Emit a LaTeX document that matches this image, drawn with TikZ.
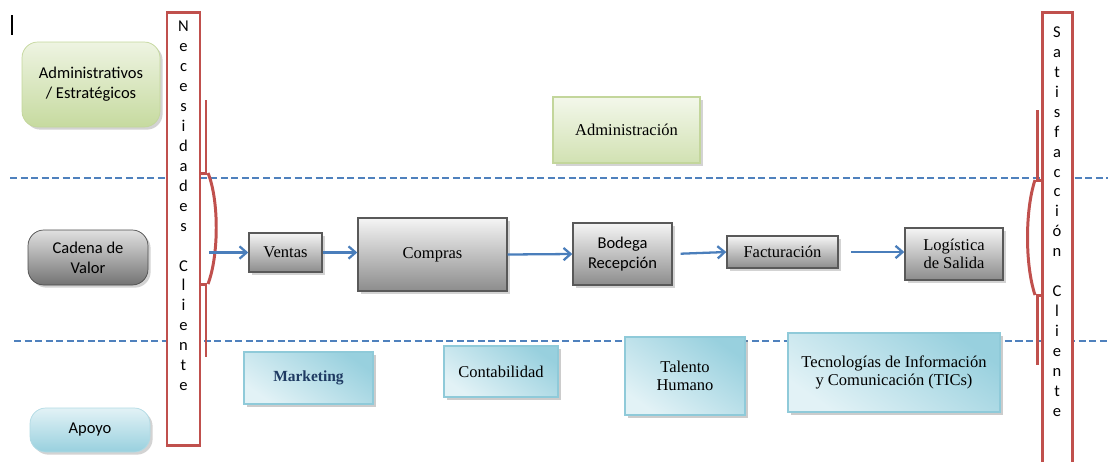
\documentclass[tikz,border=0pt]{standalone}
\usepackage{fontspec}
\setmainfont{Liberation Serif}
\newfontfamily\calib{Carlito}
\usetikzlibrary{arrows.meta,shadows}
\definecolor{necred}{HTML}{C0504D}
\definecolor{lineblue}{HTML}{4F81BD}
\definecolor{flowblue}{HTML}{4A7EBB}
\definecolor{grnlight}{HTML}{EEF4E2}
\definecolor{grndark}{HTML}{C6DA9F}
\definecolor{grnline}{HTML}{C3D69B}
\definecolor{suplight}{HTML}{E2F2F6}
\definecolor{supdark}{HTML}{98D0DE}
\definecolor{supline}{HTML}{8FCAD9}
\definecolor{mktblue}{HTML}{1F3B63}
\begin{document}
\begin{tikzpicture}[x=0.02cm, y=-0.02cm,
  boxsize/.style 2 args={minimum width=#1*0.02cm, minimum height=#2*0.02cm},
  sansfont/.style={font=\calib\fontsize{9.4}{11.3}\selectfont},
  seriffont/.style={font=\fontsize{9.4}{10.5}\selectfont},
  level/.style={draw, rounded corners=9pt, inner sep=0pt, align=center, sansfont,
    drop shadow={shadow xshift=1.5pt, shadow yshift=-1.5pt, opacity=.35}},
  process/.style={draw=black!65, line width=0.8pt, inner sep=0pt, align=center,
    top color=black!4, bottom color=black!45, seriffont,
    drop shadow={shadow xshift=1.5pt, shadow yshift=-1.5pt, opacity=.35}},
  support/.style={draw=supline, line width=0.8pt, inner sep=0pt, align=center,
    top color=supdark, bottom color=suplight, shading angle=-35, seriffont,
    drop shadow={shadow xshift=1.5pt, shadow yshift=-1.5pt, opacity=.4}},
  redframe/.style={draw=necred, line width=1.7pt, fill=white, inner sep=0pt},
  vletters/.style={inner sep=0pt, align=center, font=\calib\fontsize{9.4}{11.34}\selectfont},
  brace/.style={draw=necred, line width=1.7pt},
  sepline/.style={draw=lineblue, line width=1.2pt, dash pattern=on 4pt off 2pt},
  flow/.style={draw=flowblue, line width=1.3pt, -{Straight Barb[length=4pt,width=7pt]}}]
\useasboundingbox (0,0) rectangle (1108,461);

% cursor mark
\draw[line width=1.2pt] (12,15) -- (12,35);

% level separators
\draw[sepline] (10,178) -- (1108,178);
\draw[sepline] (14,341) -- (1108,341);

% level labels
\node[level, boxsize={138}{85}, draw=grnline, top color=grnlight, bottom color=grndark]
  (estrat) at (91,84.5) {Administrativos\\/ Estratégicos};
\node[level, boxsize={120}{55}, draw=black!70, top color=black!12, bottom color=black!55]
  (cadena) at (88,257.5) {Cadena de\\Valor};
\node[level, boxsize={120}{44}, draw=supline!70, top color=suplight, bottom color=supdark]
  (apoyo) at (90,430) {Apoyo};

% customer needs / satisfaction
\node[redframe, boxsize={33}{433}] (necbox) at (183.5,228.5) {};
\node[vletters, anchor=north] (nectxt) at (183.5,21)
  {N\\e\\c\\e\\s\\i\\d\\a\\d\\e\\s\\ \\C\\l\\i\\e\\n\\t\\e};
\node[redframe, boxsize={30}{456}] (satbox) at (1057,240) {};
\node[vletters, anchor=north] (sattxt) at (1057,26.5)
  {S\\a\\t\\i\\s\\f\\a\\c\\c\\i\\ó\\n\\ \\C\\l\\i\\e\\n\\t\\e};

\draw[brace] (206,100) -- (206,173) -- (200,173);
\draw[brace] (208,173) .. controls (219,200) and (219,255) .. (208,284);
\draw[brace] (200,284) -- (206,284) -- (206,357);
\draw[brace] (1037,110) -- (1037,180) -- (1042,180);
\draw[brace] (1035,180) .. controls (1025,210) and (1025,265) .. (1035,295);
\draw[brace] (1042,295) -- (1037,295) -- (1037,365);

% strategic level
\node[process, boxsize={147}{66}, draw=grnline, top color=grnlight!70!white, bottom color=grndark!80!white]
  (admin) at (626.5,130) {Administración};

% value chain
\node[process, boxsize={73}{39}] (ventas) at (285.5,252.5) {Ventas};
\node[process, boxsize={149}{73}] (compras) at (432.5,254.5) {Compras};
\node[process, boxsize={99}{62}, sansfont] (bodega) at (622.5,254) {Bodega\\Recepción};
\node[process, boxsize={111}{32}] (factura) at (782.5,252) {Facturación};
\node[process, boxsize={98}{52}] (logist) at (954,254) {Logística\\de Salida};

\coordinate (needs) at (209,252.5);
\draw[flow] (needs) -- (ventas.west);
\draw[flow] (ventas.east) -- (compras.west |- ventas.east);
\draw[flow] (compras.east) -- (bodega.west);
\draw[flow, shorten <=4.5pt] (bodega.east) -- (factura.west);
\draw[flow, shorten <=7pt] (factura.east) -- (logist.west |- factura.east);

% support level
\node[support, boxsize={129}{52}, font=\bfseries\fontsize{8.8}{10.5}\selectfont, text=mktblue]
  (marketing) at (308.5,378) {Marketing};
\node[support, boxsize={114}{51}] (conta) at (501,371.5) {Contabilidad};
\node[support, boxsize={120}{78}] (talento) at (685,376) {Talento\\Humano};
\node[support, boxsize={212}{79}] (tics) at (894,372.5) {Tecnologías de Información\\y Comunicación (TICs)};
\end{tikzpicture}
\end{document}
